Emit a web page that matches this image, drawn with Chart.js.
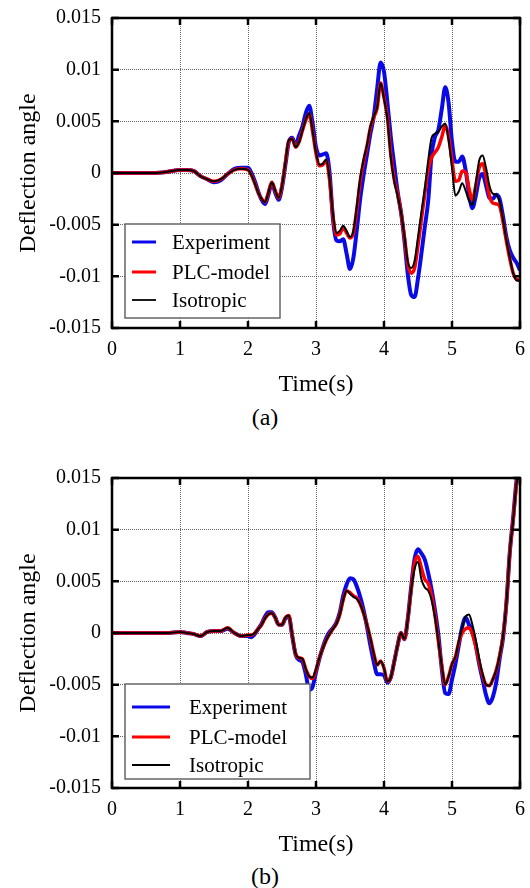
<!DOCTYPE html>
<html>
<head>
<meta charset="utf-8">
<script src="https://cdn.jsdelivr.net/npm/chart.js@4.4.1/dist/chart.umd.min.js"></script>
<style>
  html, body { margin: 0; padding: 0; background: #fff; }
  body { width: 530px; height: 888px; position: relative; overflow: hidden;
         font-family: 'Liberation Serif', 'Times New Roman', serif; }
  .panel { position: absolute; left: 0; width: 530px; height: 400px; }
  .cap { position: absolute; left: 0; width: 530px; text-align: center;
         font-size: 24px; line-height: 24px; color: #000; }
</style>
</head>
<body>
<div class="panel" style="top:0"><canvas id="chartA" width="530" height="400"></canvas></div>
<div class="cap" style="top:405px">(a)</div>
<div class="panel" style="top:460px"><canvas id="chartB" width="530" height="400"></canvas></div>
<div class="cap" style="top:864px">(b)</div>
<script>
// time axis (s)
const timeS = [0, 0.2, 0.4, 0.6, 0.8, 1.0,
  1.1, 1.2, 1.3, 1.4, 1.5, 1.6, 1.7, 1.8, 1.9, 2.0,
  2.05, 2.1, 2.15, 2.2, 2.25, 2.3, 2.35, 2.4, 2.45, 2.5,
  2.55, 2.6, 2.65, 2.7, 2.75, 2.8, 2.85, 2.9, 2.95, 3.0,
  3.05, 3.1, 3.15, 3.2, 3.25, 3.3, 3.35, 3.4, 3.45, 3.5,
  3.55, 3.6, 3.65, 3.7, 3.75, 3.8, 3.85, 3.9, 3.95, 4.0,
  4.05, 4.1, 4.15, 4.2, 4.25, 4.3, 4.35, 4.4, 4.45, 4.5,
  4.55, 4.6, 4.65, 4.7, 4.75, 4.8, 4.85, 4.9, 4.95, 5.0,
  5.05, 5.1, 5.15, 5.2, 5.25, 5.3, 5.35, 5.4, 5.45, 5.5,
  5.55, 5.6, 5.65, 5.7, 5.75, 5.8, 5.85, 5.9, 5.95, 6.0];

// (a)
const expA = [0, 0, 0, 0, 0.0001, 0.0003,
  0.0003, 0.0002, -0.0003, -0.0006, -0.0009, -0.0007, -0.0001, 0.0004, 0.0005, 0.0005,
  0, -0.0008, -0.0018, -0.0026, -0.003, -0.0021, -0.001, -0.0019, -0.0026, -0.0014,
  0.0008, 0.003, 0.0034, 0.0027, 0.0036, 0.0045, 0.0058, 0.0065, 0.0048, 0.0025,
  0.0017, 0.0018, 0.0019, 0.0, -0.0045, -0.0065, -0.0066, -0.0064, -0.0078, -0.0093,
  -0.0082, -0.0055, -0.0025, -0.0002, 0.0018, 0.0038, 0.0055, 0.0082, 0.0107, 0.0098,
  0.0068, 0.0035, 0.0008, -0.0018, -0.0038, -0.0065, -0.0098, -0.0118, -0.012, -0.0102,
  -0.0078, -0.0052, -0.0027, 0.0018, 0.0035, 0.0042, 0.0062, 0.0083, 0.0068, 0.003,
  0.0011, 0.0011, 0.0016, 0.0003, -0.002, -0.0034, -0.0022, -0.0005, -0.0001, -0.0012,
  -0.0024, -0.0025, -0.0021, -0.0025, -0.0042, -0.0062, -0.0075, -0.0082, -0.0087, -0.0094];
const plcA = [0, 0, 0, 0, 0.0001, 0.0003,
  0.0003, 0.0002, -0.0003, -0.0006, -0.0008, -0.0006, -0.0001, 0.0003, 0.0004, 0.0003,
  -0.0002, -0.001, -0.0019, -0.0025, -0.0028, -0.0019, -0.0009, -0.0017, -0.0024, -0.0012,
  0.001, 0.0031, 0.0033, 0.0025, 0.003, 0.0041, 0.0051, 0.0057, 0.004, 0.0019,
  0.0007, 0.0008, 0.0012, -0.0007, -0.0042, -0.006, -0.0059, -0.0053, -0.0058, -0.0063,
  -0.0058, -0.0035, -0.0008, 0.0011, 0.0026, 0.0044, 0.0054, 0.0063, 0.0087, 0.0073,
  0.0054, 0.0018, -0.0006, -0.002, -0.0038, -0.0062, -0.0088, -0.0097, -0.0092, -0.007,
  -0.0045, -0.002, 0.0003, 0.0015, 0.002, 0.0025, 0.0035, 0.0046, 0.0035, 0.0012,
  -0.0008, -0.0007, 0.0002, 0.0001, -0.0015, -0.0026, -0.0012, 0.0005, 0.0009, -0.0003,
  -0.0022, -0.0029, -0.003, -0.0032, -0.0047, -0.0066, -0.0083, -0.0097, -0.0103, -0.0104];
const isoA = [0, 0, 0, 0, 0.0001, 0.0003,
  0.0003, 0.0002, -0.0003, -0.0006, -0.0008, -0.0006, -0.0001, 0.0003, 0.0004, 0.0003,
  -0.0002, -0.001, -0.0019, -0.0025, -0.0028, -0.0019, -0.0009, -0.0017, -0.0024, -0.0012,
  0.001, 0.0032, 0.0033, 0.0025, 0.003, 0.0041, 0.0052, 0.0058, 0.0041, 0.002,
  0.0008, 0.0009, 0.0013, -0.0006, -0.004, -0.0058, -0.0056, -0.0051, -0.0056, -0.0062,
  -0.0056, -0.0032, -0.0005, 0.0013, 0.0027, 0.0045, 0.0055, 0.0064, 0.0087, 0.0072,
  0.0052, 0.0015, -0.0008, -0.0022, -0.0038, -0.0061, -0.0086, -0.0092, -0.0085, -0.0062,
  -0.0038, -0.0015, 0.0012, 0.0034, 0.0038, 0.004, 0.0045, 0.0048, 0.0032, 0.0005,
  -0.0022, -0.0018, -0.001, -0.0017, -0.0027, -0.0031, -0.001, 0.0012, 0.0017, 0.0005,
  -0.0012, -0.002, -0.0021, -0.0028, -0.0045, -0.0065, -0.0082, -0.0097, -0.0104, -0.0104];

// (b)
const expB = [0, 0, 0, 0, 0, 0.0001,
  0, -0.0001, -0.0003, 0.0001, 0.0002, 0.0002, 0.0004, 0, -0.0003, -0.0003,
  -0.0004, -0.0001, 0.0004, 0.0009, 0.0016, 0.002, 0.002, 0.0015, 0.0008, 0.0008,
  0.0014, 0.0016, -0.0003, -0.0021, -0.0026, -0.0028, -0.004, -0.0055, -0.0052, -0.0038,
  -0.0025, -0.0014, -0.0005, 0.0001, 0.0005, 0.001, 0.002, 0.0036, 0.0047, 0.0053,
  0.0052, 0.0045, 0.0035, 0.0022, 0.0006, -0.0012, -0.0028, -0.004, -0.004, -0.0041,
  -0.0048, -0.0043, -0.0028, -0.0012, 0, -0.0006, 0.0014, 0.0045, 0.0072, 0.0081,
  0.0077, 0.0071, 0.0058, 0.0042, 0.0022, -0.0002, -0.0035, -0.0058, -0.0059, -0.0045,
  -0.003, -0.0012, 0.0006, 0.0015, 0.0008, 0.0002, -0.0012, -0.003, -0.0045, -0.006,
  -0.0068, -0.0062, -0.0048, -0.0025, -0.0005, 0.0029, 0.0078, 0.0112, 0.0148, 0.0165];
const plcB = [0, 0, 0, 0, 0, 0.0001,
  0, -0.0001, -0.0003, 0.0001, 0.0002, 0.0002, 0.0005, 0, -0.0003, -0.0002,
  -0.0002, 0, 0.0004, 0.0008, 0.0014, 0.0018, 0.0019, 0.0015, 0.0008, 0.0008,
  0.0015, 0.0017, -0.0002, -0.002, -0.0024, -0.0025, -0.0035, -0.0042, -0.0044, -0.0036,
  -0.0024, -0.0015, -0.0007, -0.0001, 0.0004, 0.0009, 0.0018, 0.0032, 0.0041, 0.0039,
  0.0036, 0.0034, 0.0028, 0.0019, 0.0008, -0.0005, -0.002, -0.0031, -0.0027, -0.0034,
  -0.0047, -0.0043, -0.0028, -0.0012, 0, -0.0006, 0.0013, 0.0042, 0.0068, 0.0074,
  0.0063, 0.0052, 0.0048, 0.0036, 0.0017, -0.0008, -0.0032, -0.005, -0.0042, -0.003,
  -0.0023, -0.0009, 0, 0.0004, 0.0005, -0.0001, -0.0013, -0.0028, -0.0041, -0.005,
  -0.0051, -0.0045, -0.0036, -0.0022, -0.0003, 0.0029, 0.0078, 0.011, 0.0145, 0.016];
const isoB = [0, 0, 0, 0, 0, 0.0001,
  0, -0.0001, -0.0003, 0.0001, 0.0002, 0.0002, 0.0005, 0, -0.0003, -0.0002,
  -0.0002, 0, 0.0004, 0.0008, 0.0014, 0.0018, 0.0019, 0.0015, 0.0008, 0.0008,
  0.0015, 0.0017, -0.0002, -0.002, -0.0024, -0.0025, -0.0035, -0.0042, -0.0043, -0.0035,
  -0.0024, -0.0015, -0.0007, -0.0001, 0.0004, 0.0009, 0.0018, 0.0032, 0.0041, 0.0038,
  0.0035, 0.0033, 0.0028, 0.0019, 0.0008, -0.0005, -0.002, -0.0031, -0.0027, -0.0034,
  -0.0047, -0.0043, -0.0028, -0.0012, 0, -0.0006, 0.0013, 0.0042, 0.0062, 0.0069,
  0.0052, 0.0044, 0.0041, 0.0032, 0.0015, -0.0008, -0.0032, -0.005, -0.0042, -0.003,
  -0.0023, -0.0008, 0.0005, 0.0016, 0.0018, 0.0008, -0.0007, -0.0025, -0.004, -0.005,
  -0.0051, -0.0045, -0.0036, -0.0022, -0.0003, 0.0029, 0.0078, 0.011, 0.0145, 0.016];

const seriesNames = ['Experiment', 'PLC-model', 'Isotropic'];
const xTickValues = [0, 1, 2, 3, 4, 5, 6];
const yTickValues = [-0.015, -0.01, -0.005, 0, 0.005, 0.01, 0.015];
const yTickLabels = ['-0.015', '-0.01', '-0.005', '0', '0.005', '0.01', '0.015'];

const SERIF = "'Liberation Serif', 'Times New Roman', serif";
Chart.defaults.font.family = SERIF;
Chart.defaults.color = '#000';

function pairs(vals) {
  return timeS.map((t, i) => ({ x: t, y: vals[i] }));
}

// black frame with inward tick marks on all four sides
const framePlugin = {
  id: 'frame',
  afterDatasetsDraw(chart) {
    const { ctx, chartArea: a, scales: { x, y } } = chart;
    ctx.save();
    ctx.strokeStyle = '#000';
    ctx.lineWidth = 2.5;
    ctx.strokeRect(a.left, a.top, a.right - a.left, a.bottom - a.top);
    const len = 7;
    ctx.beginPath();
    xTickValues.forEach(v => {
      const px = x.getPixelForValue(v);
      ctx.moveTo(px, a.bottom); ctx.lineTo(px, a.bottom - len);
      ctx.moveTo(px, a.top); ctx.lineTo(px, a.top + len);
    });
    yTickValues.forEach(v => {
      const py = y.getPixelForValue(v);
      ctx.moveTo(a.left, py); ctx.lineTo(a.left + len, py);
      ctx.moveTo(a.right, py); ctx.lineTo(a.right - len, py);
    });
    ctx.stroke();
    ctx.restore();
  }
};

// boxed legend sitting inside the plot area
const boxLegendPlugin = {
  id: 'boxLegend',
  afterDraw(chart, args, opts) {
    const { ctx } = chart;
    const b = opts.box;
    ctx.save();
    ctx.fillStyle = '#fff';
    ctx.fillRect(b.x, b.y, b.w, b.h);
    ctx.strokeStyle = '#666';
    ctx.lineWidth = 1.5;
    ctx.strokeRect(b.x, b.y, b.w, b.h);
    ctx.font = '21px ' + SERIF;
    ctx.textBaseline = 'middle';
    ctx.fillStyle = '#000';
    chart.data.datasets.forEach((ds, i) => {
      const ry = opts.rows[i];
      ctx.strokeStyle = ds.borderColor;
      ctx.lineWidth = opts.lineWidths[i];
      ctx.beginPath();
      ctx.moveTo(opts.lineX1, ry);
      ctx.lineTo(opts.lineX2, ry);
      ctx.stroke();
      ctx.fillText(ds.label, opts.textX, ry + 1);
    });
    ctx.restore();
  }
};

function makeChart(id, exp, plc, iso, legendOpts) {
  const common = { fill: false, pointRadius: 0, cubicInterpolationMode: 'monotone' };
  new Chart(document.getElementById(id), {
    type: 'line',
    data: {
      datasets: [
        Object.assign({ label: seriesNames[0], data: pairs(exp), borderColor: '#0a0ae6', borderWidth: 4, order: 2 }, common),
        Object.assign({ label: seriesNames[1], data: pairs(plc), borderColor: '#ff0000', borderWidth: 3.5, order: 1 }, common),
        Object.assign({ label: seriesNames[2], data: pairs(iso), borderColor: '#000000', borderWidth: 2, order: 0 }, common)
      ]
    },
    options: {
      responsive: false,
      animation: false,
      events: [],
      layout: { padding: { top: 18, right: 10, left: 0, bottom: 0 } },
      plugins: {
        legend: { display: false },
        tooltip: { enabled: false },
        boxLegend: legendOpts
      },
      scales: {
        x: {
          type: 'linear',
          min: 0, max: 6,
          afterBuildTicks: s => { s.ticks = xTickValues.map(v => ({ value: v })); },
          afterFit: s => { s.height = 72; s.paddingLeft = 0; s.paddingRight = 0; },
          ticks: { font: { size: 20 }, padding: 10, maxRotation: 0, callback: v => String(v) },
          grid: { color: 'rgba(0,0,0,0.6)', lineWidth: 1, drawTicks: false },
          border: { display: false, dash: [1, 1] },
          title: { display: true, text: 'Time(s)', font: { size: 24, lineHeight: 1.2 }, padding: { top: 0, bottom: 1 } }
        },
        y: {
          min: -0.015, max: 0.015,
          afterBuildTicks: s => { s.ticks = yTickValues.map(v => ({ value: v })); },
          afterFit: s => { s.width = 112; s.paddingTop = 0; s.paddingBottom = 0; },
          ticks: { font: { size: 20 }, padding: 11, callback: (v, i) => yTickLabels[i] },
          grid: { color: 'rgba(0,0,0,0.6)', lineWidth: 1, drawTicks: false },
          border: { display: false, dash: [1, 1] },
          title: { display: true, text: 'Deflection angle', font: { size: 24, lineHeight: 1.2 }, padding: { top: 14, bottom: 0 } }
        }
      }
    },
    plugins: [framePlugin, boxLegendPlugin]
  });
}

makeChart('chartA', expA, plcA, isoA, {
  box: { x: 125, y: 224, w: 155, h: 94 },
  lineX1: 132, lineX2: 156, textX: 172,
  rows: [242, 272, 300],
  lineWidths: [3, 3, 1.8]
});
makeChart('chartB', expB, plcB, isoB, {
  box: { x: 125, y: 224, w: 185, h: 95 },
  lineX1: 132, lineX2: 170, textX: 189,
  rows: [247, 277, 305],
  lineWidths: [3, 3, 1.8]
});
</script>
</body>
</html>
